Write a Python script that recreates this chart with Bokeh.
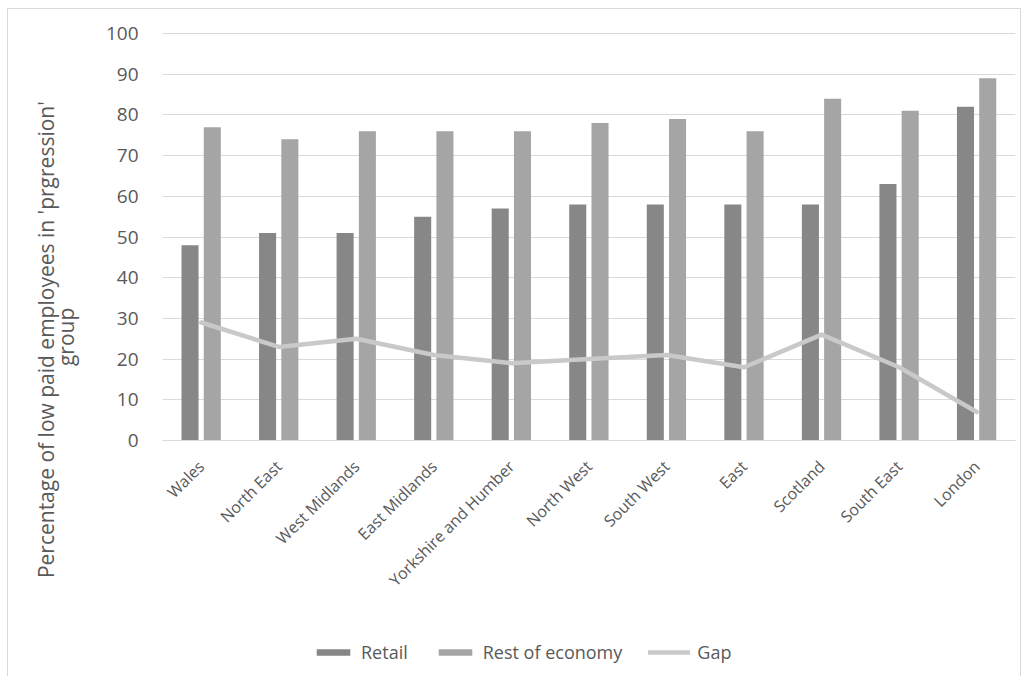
from math import pi
from bokeh.plotting import figure
from bokeh.layouts import column
from bokeh.models import ColumnDataSource, FactorRange, Range1d, Legend, LegendItem, InlineStyleSheet
from bokeh.transform import dodge
from bokeh.embed import file_html
from bokeh.resources import INLINE

regions = ["Wales", "North East", "West Midlands", "East Midlands", "Yorkshire and Humber",
           "North West", "South West", "East", "Scotland", "South East", "London"]
retail = [48, 51, 51, 55, 57, 58, 58, 58, 58, 63, 82]
rest_of_economy = [77, 74, 76, 76, 76, 78, 79, 76, 84, 81, 89]
gap = [29, 23, 25, 21, 19, 20, 21, 18, 26, 18, 7]
y_ticks = [0, 10, 20, 30, 40, 50, 60, 70, 80, 90, 100]
y_title = ["Percentage of  low paid employees in 'prgression'", "group"]
series_names = ["Retail", "Rest of economy", "Gap"]

FONT = "Open Sans"
TXT = "#595959"
C_RETAIL, C_REST, C_GAP = "#878787", "#a5a5a5", "#c9c9c9"
PAD = "\u00a0" * 37  # shifts the centred title downwards, as in the reference

src = ColumnDataSource(dict(region=regions, retail=retail, rest=rest_of_economy, gap=gap))
xr = FactorRange(*regions, range_padding=0)


def draw_series(fig):
    a = fig.vbar(x=dodge("region", -0.145, range=xr), top="retail", width=0.22,
                 source=src, fill_color=C_RETAIL, line_color=None)
    b = fig.vbar(x=dodge("region", 0.142, range=xr), top="rest", width=0.22,
                 source=src, fill_color=C_REST, line_color=None)
    c = fig.line(x="region", y="gap", source=src, line_color=C_GAP, line_width=4.5,
                 line_join="round", line_cap="round")
    return [a, b, c]


p = figure(width=1028, height=630, x_range=xr, y_range=(0, 100.5), output_backend="svg",
           toolbar_location=None, min_border_left=162, min_border_right=13,
           min_border_top=31, min_border_bottom=190)
p.outline_line_color = None
p.background_fill_color = "white"
p.border_fill_color = "white"
draw_series(p)

p.xgrid.grid_line_color = None
p.ygrid.grid_line_color = "#d9d9d9"
p.ygrid.grid_line_width = 1
p.yaxis.ticker = y_ticks
p.yaxis.axis_line_color = None
p.yaxis.major_tick_line_color = None
p.yaxis.minor_tick_line_color = None
p.yaxis.major_label_standoff = 18
p.yaxis.major_label_text_font = FONT
p.yaxis.major_label_text_font_size = "19px"
p.yaxis.major_label_text_color = TXT
p.yaxis.axis_label = "\n".join(t + PAD for t in y_title)
p.yaxis.axis_label_standoff = 23
p.yaxis.axis_label_text_font = FONT
p.yaxis.axis_label_text_font_size = "21px"
p.yaxis.axis_label_text_font_style = "normal"
p.yaxis.axis_label_text_line_height = 0.72
p.yaxis.axis_label_text_color = TXT

p.xaxis.axis_line_color = "#d9d9d9"
p.xaxis.major_tick_line_color = None
p.xaxis.minor_tick_line_color = None
p.xaxis.major_label_orientation = pi / 4
p.xaxis.major_label_standoff = 17
p.xaxis.major_label_text_font = FONT
p.xaxis.major_label_text_font_size = "16px"
p.xaxis.major_label_text_color = TXT

# legend strip below the chart (series drawn far outside its visible y range, legend only)
lf = figure(width=1028, height=46, x_range=xr, y_range=Range1d(500, 501), output_backend="svg",
            toolbar_location=None, min_border_left=162, min_border_right=13,
            min_border_top=0, min_border_bottom=0)
lf.axis.visible = False
lf.grid.grid_line_color = None
lf.outline_line_color = None
lf.background_fill_color = "white"
lf.border_fill_color = "white"
keys = draw_series(lf)
legend = Legend(items=[LegendItem(label=n, renderers=[r]) for n, r in zip(series_names, keys)],
                orientation="horizontal", location=(150, 12), glyph_width=42, glyph_height=8,
                label_text_font=FONT, label_text_font_size="18px", label_text_color=TXT,
                border_line_color=None, background_fill_alpha=0, padding=0, margin=0,
                spacing=26, label_standoff=7)
lf.add_layout(legend, "center")

layout = column(p, lf, spacing=0)
layout.stylesheets = [InlineStyleSheet(css=""":host::after { content: ""; position: absolute;
  left: 7px; top: 8px; width: 1012px; height: 670px; border: 1px solid #d9d9d9;
  pointer-events: none; }""")]

open("out.html", "w").write(file_html(layout, INLINE))
